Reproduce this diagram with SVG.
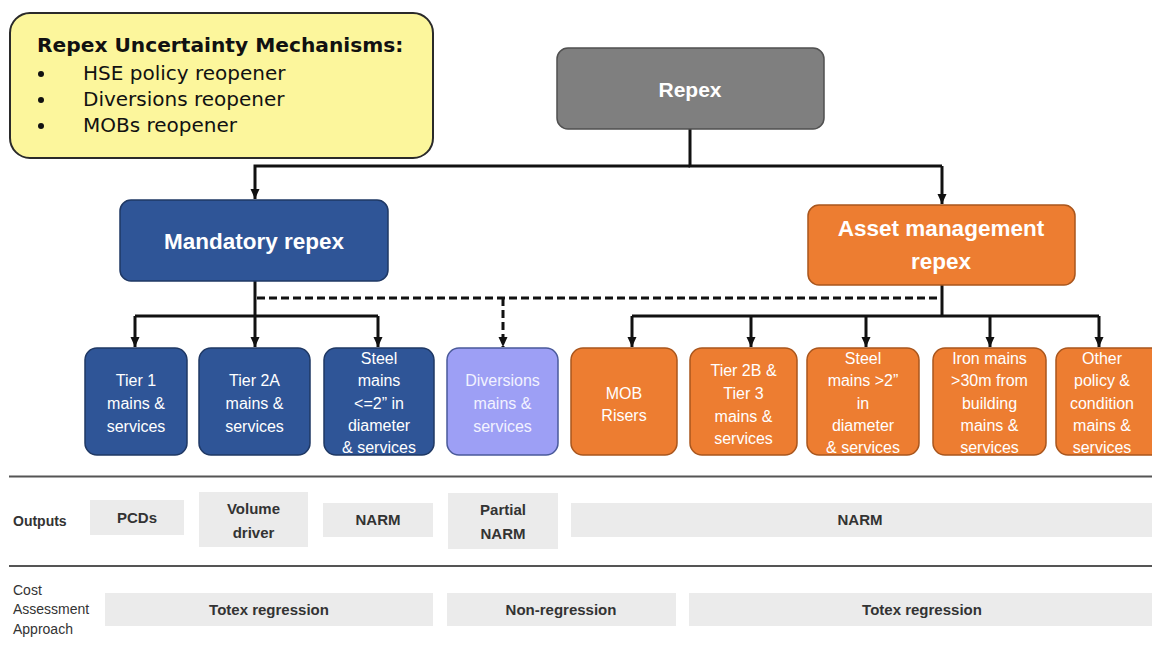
<svg xmlns="http://www.w3.org/2000/svg" width="1152" height="646" viewBox="0 0 1152 646">
<defs>
<marker id="ah" markerUnits="userSpaceOnUse" markerWidth="10" markerHeight="10" viewBox="0 0 10 10" refX="10" refY="5" orient="auto">
<path d="M0,0.5 L10,5 L0,9.5 Z" fill="#111"/>
</marker>
<style>
.conn{fill:none;stroke:#111;stroke-width:3}
.dash{stroke-dasharray:8 4}
.blue{fill:#2f5597;stroke:#1f3864;stroke-width:1.5}
.orange{fill:#ed7d31;stroke:#a9561d;stroke-width:1.5}
.lav{fill:#9d9ff5;stroke:#4a5a9a;stroke-width:1.5}
.gray{fill:#7f7f7f;stroke:#505050;stroke-width:1.5}
.hd{font-family:"Liberation Sans",Arial,sans-serif;font-weight:bold;fill:#fff;text-anchor:middle}
.bt{font-family:"Liberation Sans",Arial,sans-serif;font-size:16px;fill:#fff;text-anchor:middle}
.lt{fill:#f2f2ff}
.ob{fill:#ebebeb}
.ot{font-family:"Liberation Sans",Arial,sans-serif;font-weight:bold;font-size:15px;fill:#333;text-anchor:middle}
.lab{font-family:"Liberation Sans",Arial,sans-serif;font-size:14px;fill:#333}
.rule{stroke:#555;stroke-width:2}
.yt{font-family:"DejaVu Sans",Verdana,sans-serif;fill:#111}
</style>
</defs>

<g id="uncertainty">
<rect x="10" y="13" width="423" height="145" rx="20" fill="#fcf69c" stroke="#2a2a2a" stroke-width="2"/>
<text class="yt" x="37" y="52" font-size="20.2" font-weight="bold">Repex Uncertainty Mechanisms:</text>
<circle cx="41" cy="74" r="3" fill="#111"/>
<circle cx="41" cy="100" r="3" fill="#111"/>
<circle cx="41" cy="126" r="3" fill="#111"/>
<text class="yt" x="83" y="80" font-size="20">HSE policy reopener</text>
<text class="yt" x="83" y="106" font-size="20">Diversions reopener</text>
<text class="yt" x="83" y="132" font-size="20">MOBs reopener</text>
</g>

<g id="connectors">
<path class="conn" d="M690,129 V166 H942"/>
<path class="conn" d="M690,166 H255 V199" marker-end="url(#ah)"/>
<path class="conn" d="M942,166 V204" marker-end="url(#ah)"/>
<path class="conn" d="M255,281 V347" marker-end="url(#ah)"/>
<path class="conn" d="M135,316 H378"/>
<path class="conn" d="M135,316 V347" marker-end="url(#ah)"/>
<path class="conn" d="M378,316 V347" marker-end="url(#ah)"/>
<path class="conn dash" d="M257,298 H940"/>
<path class="conn dash" d="M503,298 V347" marker-end="url(#ah)"/>
<path class="conn" d="M942,285 V316"/>
<path class="conn" d="M632,316 H1099"/>
<path class="conn" d="M632,316 V347" marker-end="url(#ah)"/>
<path class="conn" d="M751,316 V347" marker-end="url(#ah)"/>
<path class="conn" d="M866,316 V347" marker-end="url(#ah)"/>
<path class="conn" d="M990,316 V347" marker-end="url(#ah)"/>
<path class="conn" d="M1099,316 V347" marker-end="url(#ah)"/>
</g>

<g id="repex">
<rect class="gray" x="557" y="48" width="267" height="81" rx="11"/>
<text class="hd" x="690" y="97" font-size="21">Repex</text>
</g>

<g id="mandatory">
<rect class="blue" x="120" y="200" width="268" height="81" rx="11"/>
<text class="hd" x="254" y="249" font-size="22.5">Mandatory repex</text>
</g>

<g id="asset">
<rect class="orange" x="808" y="205" width="267" height="80" rx="11"/>
<text class="hd" x="941" y="236" font-size="22.5">Asset management</text>
<text class="hd" x="941" y="269" font-size="22.5">repex</text>
</g>

<g id="tier1">
<rect class="blue" x="85" y="348" width="102" height="107" rx="12"/>
<text class="bt" x="136" y="386">Tier 1<tspan x="136" dy="23">mains &amp;</tspan><tspan x="136" dy="23">services</tspan></text>
</g>

<g id="tier2a">
<rect class="blue" x="199" y="348" width="111" height="107" rx="12"/>
<text class="bt" x="254.5" y="386">Tier 2A<tspan x="254.5" dy="23">mains &amp;</tspan><tspan x="254.5" dy="23">services</tspan></text>
</g>

<g id="steel-small">
<rect class="blue" x="324" y="348" width="110" height="107" rx="12"/>
<text class="bt" x="379" y="364">Steel<tspan x="379" dy="22.3">mains</tspan><tspan x="379" dy="22.3">&lt;=2” in</tspan><tspan x="379" dy="22.3">diameter</tspan><tspan x="379" dy="22.3">&amp; services</tspan></text>
</g>

<g id="diversions">
<rect class="lav" x="447" y="348" width="111" height="107" rx="12"/>
<text class="bt lt" x="502.5" y="386">Diversions<tspan x="502.5" dy="23">mains &amp;</tspan><tspan x="502.5" dy="23">services</tspan></text>
</g>

<g id="mob">
<rect class="orange" x="571" y="348" width="106" height="107" rx="12"/>
<text class="bt" x="624" y="399">MOB<tspan x="624" dy="22">Risers</tspan></text>
</g>

<g id="tier2b">
<rect class="orange" x="690" y="348" width="107" height="107" rx="12"/>
<text class="bt" x="743.5" y="376">Tier 2B &amp;<tspan x="743.5" dy="23">Tier 3</tspan><tspan x="743.5" dy="23">mains &amp;</tspan><tspan x="743.5" dy="22">services</tspan></text>
</g>

<g id="steel-large">
<rect class="orange" x="807" y="348" width="112" height="107" rx="12"/>
<text class="bt" x="863" y="364">Steel<tspan x="863" dy="22.3">mains &gt;2”</tspan><tspan x="863" dy="22.3">in</tspan><tspan x="863" dy="22.3">diameter</tspan><tspan x="863" dy="22.3">&amp; services</tspan></text>
</g>

<g id="iron">
<rect class="orange" x="933" y="348" width="113" height="107" rx="12"/>
<text class="bt" x="989.5" y="364">Iron mains<tspan x="989.5" dy="22.3">&gt;30m from</tspan><tspan x="989.5" dy="22.3">building</tspan><tspan x="989.5" dy="22.3">mains &amp;</tspan><tspan x="989.5" dy="22.3">services</tspan></text>
</g>

<g id="other">
<rect class="orange" x="1056" y="348" width="110" height="107" rx="12"/>
<text class="bt" x="1102" y="364">Other<tspan x="1102" dy="22.3">policy &amp;</tspan><tspan x="1102" dy="22.3">condition</tspan><tspan x="1102" dy="22.3">mains &amp;</tspan><tspan x="1102" dy="22.3">services</tspan></text>
</g>

<g id="outputs">
<line class="rule" x1="9" y1="476.5" x2="1152" y2="476.5"/>
<text class="lab" x="13" y="526" font-weight="bold" font-size="13.5">Outputs</text>
<rect class="ob" x="90" y="500" width="94" height="35"/>
<text class="ot" x="137" y="523">PCDs</text>
<rect class="ob" x="199" y="492" width="109" height="55"/>
<text class="ot" x="253.5" y="514">Volume</text>
<text class="ot" x="253.5" y="538">driver</text>
<rect class="ob" x="323" y="503" width="110" height="34"/>
<text class="ot" x="378" y="525">NARM</text>
<rect class="ob" x="448" y="493" width="110" height="56"/>
<text class="ot" x="503" y="515">Partial</text>
<text class="ot" x="503" y="539">NARM</text>
<rect class="ob" x="571" y="503" width="581" height="34"/>
<text class="ot" x="860" y="525">NARM</text>
<line class="rule" x1="9" y1="566" x2="1152" y2="566"/>
</g>

<g id="cost">
<text class="lab" x="13" y="595">Cost</text>
<text class="lab" x="13" y="614">Assessment</text>
<text class="lab" x="13" y="634">Approach</text>
<rect class="ob" x="105" y="593" width="328" height="33"/>
<text class="ot" x="269" y="615" font-size="16">Totex regression</text>
<rect class="ob" x="447" y="593" width="229" height="33"/>
<text class="ot" x="561" y="615" font-size="16">Non-regression</text>
<rect class="ob" x="689" y="593" width="463" height="33"/>
<text class="ot" x="922" y="615" font-size="16">Totex regression</text>
</g>
</svg>
